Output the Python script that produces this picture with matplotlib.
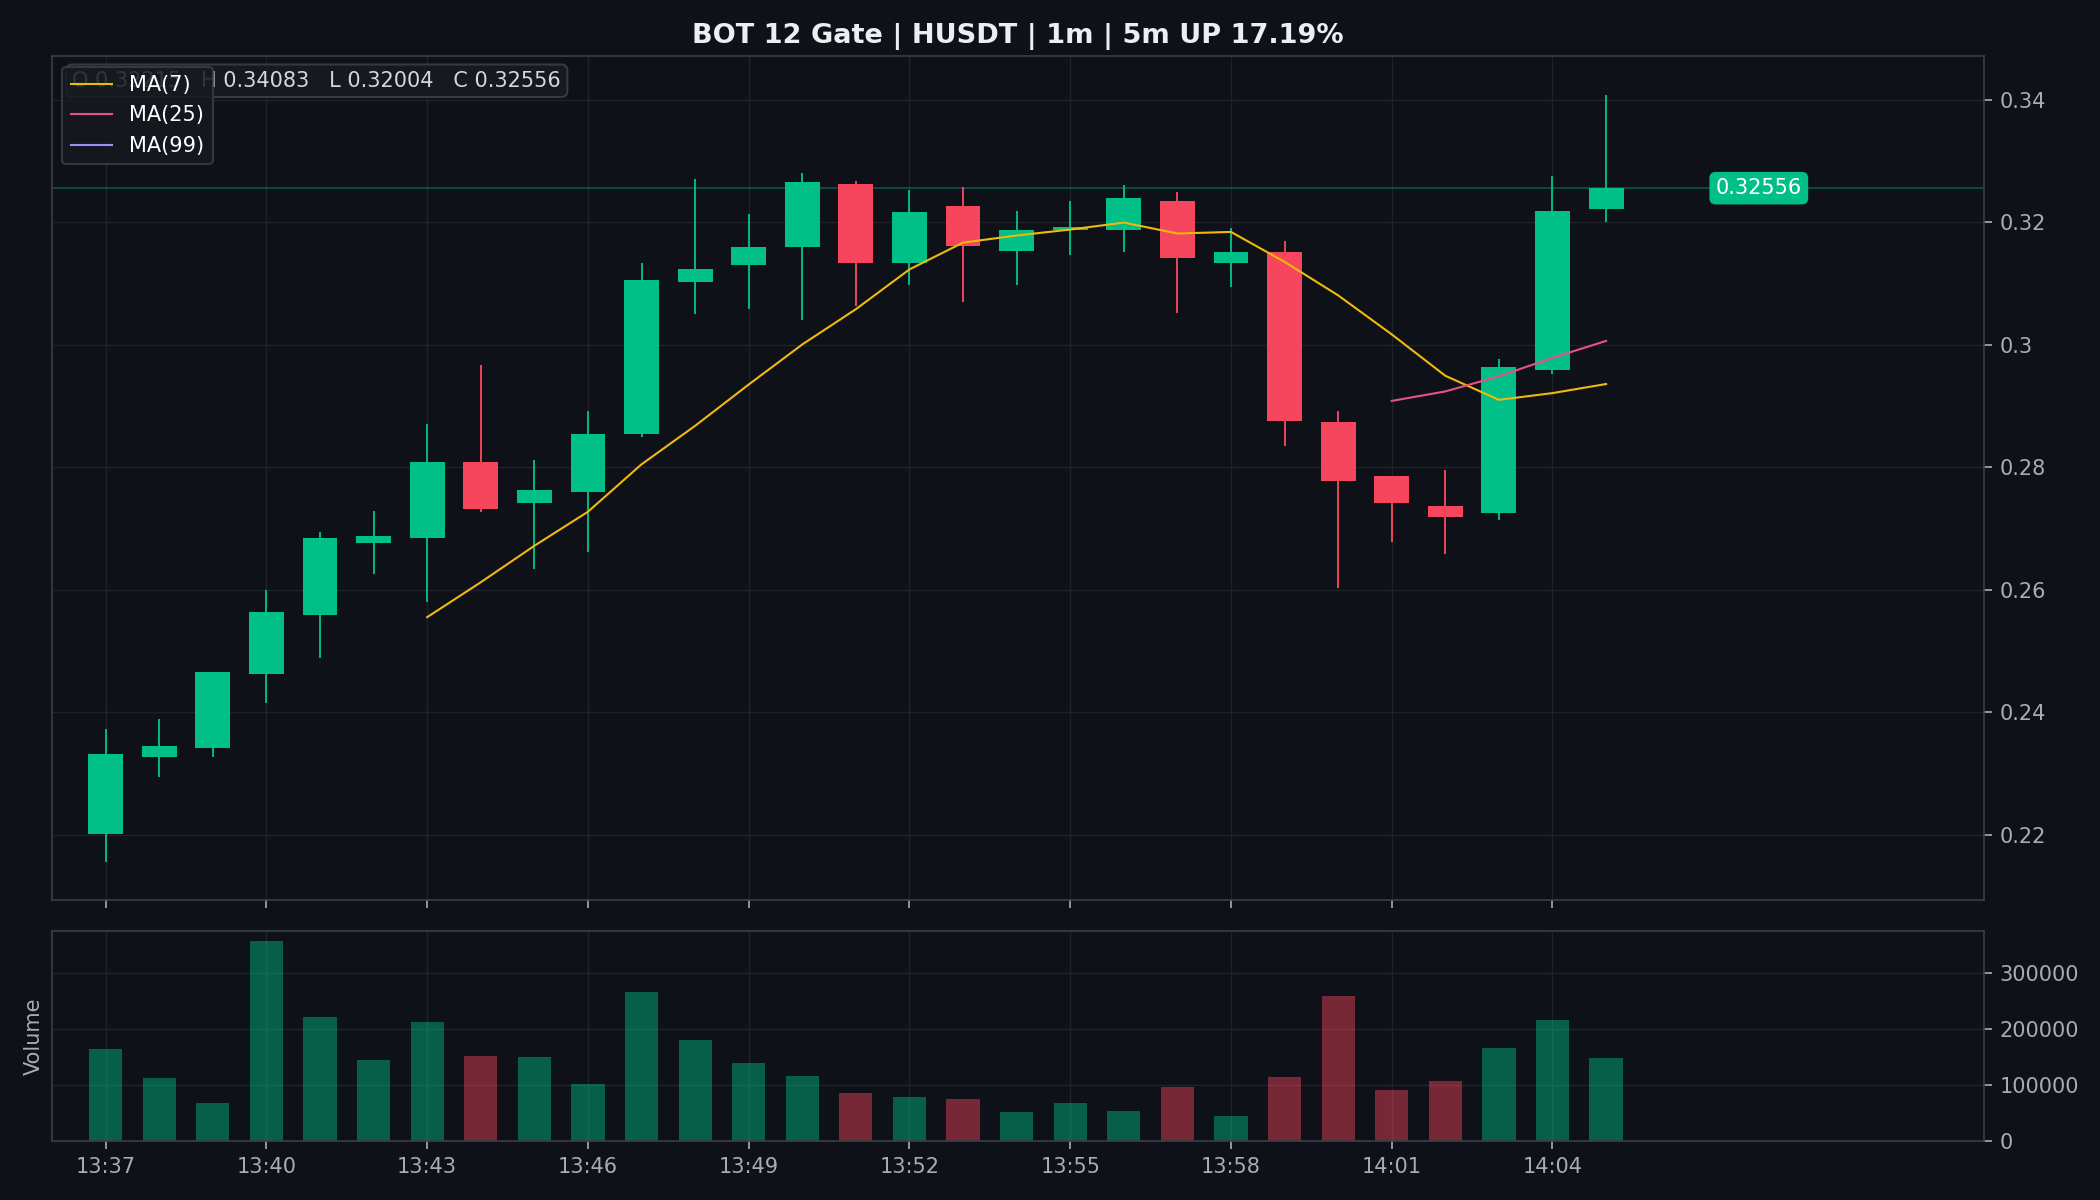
import matplotlib.pyplot as plt
import numpy as np
import pandas as pd

# 1m candles, 13:37 -> 14:05
times = ["13:37", "13:38", "13:39", "13:40", "13:41", "13:42", "13:43", "13:44",
         "13:45", "13:46", "13:47", "13:48", "13:49", "13:50", "13:51", "13:52",
         "13:53", "13:54", "13:55", "13:56", "13:57", "13:58", "13:59", "14:00",
         "14:01", "14:02", "14:03", "14:04", "14:05"]
opens = [0.2201, 0.2327, 0.2341, 0.2463, 0.2559, 0.2676, 0.2684, 0.2808, 0.2741, 0.2759,
         0.2854, 0.3102, 0.3130, 0.3159, 0.3263, 0.3134, 0.3226, 0.3153, 0.3188, 0.3188,
         0.3235, 0.3134, 0.3152, 0.2874, 0.2785, 0.2737, 0.2726, 0.2958, 0.32215]
highs = [0.2373, 0.2389, 0.2466, 0.2600, 0.2694, 0.2729, 0.2870, 0.2967, 0.2812, 0.2892,
         0.3134, 0.3270, 0.3213, 0.3281, 0.3267, 0.3252, 0.3257, 0.3219, 0.3234, 0.3260,
         0.3250, 0.3191, 0.3170, 0.2891, 0.2785, 0.2795, 0.2976, 0.3276, 0.34083]
lows = [0.2156, 0.2295, 0.2327, 0.2415, 0.2488, 0.2625, 0.2580, 0.2727, 0.2634, 0.2661,
        0.2849, 0.3050, 0.3059, 0.3040, 0.3064, 0.3098, 0.3069, 0.3098, 0.3147, 0.3151,
        0.3052, 0.3094, 0.2834, 0.2603, 0.2678, 0.2658, 0.2714, 0.2952, 0.32004]
closes = [0.2332, 0.2345, 0.2466, 0.2564, 0.2684, 0.2687, 0.2808, 0.2731, 0.2762, 0.2855,
          0.3106, 0.3124, 0.3159, 0.3266, 0.3134, 0.3217, 0.3161, 0.3187, 0.3192, 0.3239,
          0.3141, 0.3152, 0.2875, 0.2778, 0.2741, 0.2719, 0.2964, 0.3218, 0.32556]
volumes = [165500, 113700, 69000, 358300, 222600, 145800, 213700, 153000, 151200, 103000,
           267300, 181500, 140500, 117300, 86900, 79800, 76200, 53000, 69000, 54800,
           97600, 45800, 115500, 260100, 92300, 108300, 167300, 217300, 149400]

title = "BOT 12 Gate | HUSDT | 1m | 5m UP 17.19%"

bg = "#0f1118"
green = "#00c087"
red = "#f6465d"
grid_c = "#1f2229"
spine_c = "#3b3e46"
tick_c = "#a8acb4"

o = np.array(opens)
h = np.array(highs)
l = np.array(lows)
c = np.array(closes)
x = np.arange(len(times))
up = c >= o
cols = np.where(up, green, red)

ma7 = pd.Series(c).rolling(7).mean()
ma25 = pd.Series(c).rolling(25).mean()
ma99 = pd.Series(c).rolling(99).mean()

fig = plt.figure(figsize=(14, 8), dpi=150, facecolor=bg)
ax = fig.add_axes([0.0248, 0.25, 0.9199, 0.7031])
axv = fig.add_axes([0.0248, 0.0488, 0.9199, 0.1756], sharex=ax)

for a in (ax, axv):
    a.set_facecolor(bg)
    for s in a.spines.values():
        s.set_color(spine_c)
    a.grid(True, color=grid_c, lw=0.7)
    a.set_axisbelow(True)
    a.yaxis.tick_right()
    a.tick_params(colors=tick_c, labelsize=10, length=4)

# candles
ax.vlines(x, l, h, colors=cols, lw=0.9, zorder=2)
body = np.maximum(np.abs(c - o), 0.0004)
ax.bar(x, body, bottom=np.minimum(o, c), width=0.65, color=cols, zorder=3)

ax.plot(x, ma7, color="#f0b90b", lw=1.0, label="MA(7)", zorder=4)
ax.plot(x, ma25, color="#e8508c", lw=1.0, label="MA(25)", zorder=4)
ax.plot(x, ma99, color="#9d8ff5", lw=1.0, label="MA(99)", zorder=4)

# last price line + tag
last = closes[-1]
ax.axhline(last, color=green, alpha=0.35, lw=0.9, zorder=1)
ax.text(30.85, last, f"{last:.5f}", color="white", fontsize=10, ha="center", va="center",
        bbox=dict(boxstyle="round,pad=0.3", fc=green, ec="none"), zorder=5)

rng = max(highs) - min(lows)
ax.set_ylim(min(lows) - 0.05 * rng, max(highs) + 0.05 * rng)
ax.set_xlim(-1, 35.05)
ax.set_yticks([0.22, 0.24, 0.26, 0.28, 0.30, 0.32, 0.34])
ax.set_yticklabels(["0.22", "0.24", "0.26", "0.28", "0.3", "0.32", "0.34"])
ax.tick_params(axis="x", labelbottom=False)

info = f"O {opens[-1]:.5f}   H {highs[-1]:.5f}   L {lows[-1]:.5f}   C {closes[-1]:.5f}"
ax.text(0.0105, 0.971, info, transform=ax.transAxes, color="#d4d7dc", fontsize=10,
        ha="left", va="center", zorder=6,
        bbox=dict(boxstyle="round,pad=0.3", fc="#161a22", ec="#3b3e46", alpha=0.9))

leg = ax.legend(loc="upper left", fontsize=10, facecolor="#151920", edgecolor="#3b3e46",
                framealpha=0.85, labelcolor="white")
leg.set_zorder(10)

# volume
axv.bar(x, volumes, width=0.62, color=cols, alpha=0.45, zorder=2)
axv.set_ylim(0, max(volumes) * 1.05)
axv.set_yticks([0, 100000, 200000, 300000])
axv.set_yticklabels(["0", "100000", "200000", "300000"])
axv.set_ylabel("Volume", color=tick_c, fontsize=10)
axv.set_xticks(x[::3])
axv.set_xticklabels(times[::3])

# title centred over the price axes
ax.text(0.5, 1.024, title, transform=ax.transAxes, color="#eceef1", fontsize=13,
        fontweight="bold", ha="center", va="center")

fig.savefig("out.png", dpi=150, facecolor=bg)
